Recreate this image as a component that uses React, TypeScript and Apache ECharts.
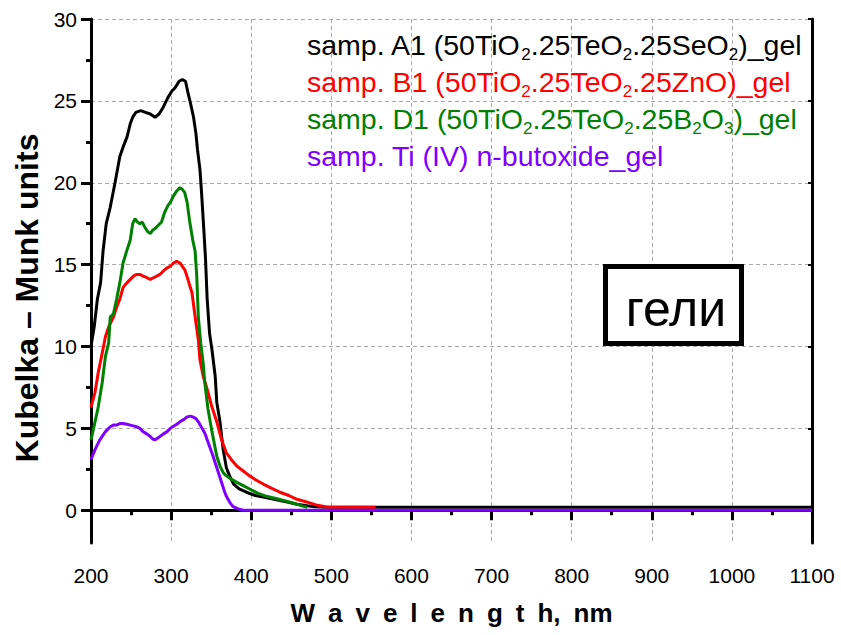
import React, { useEffect, useRef } from "react";
import * as echarts from "echarts";

// ---- data (wavelength nm / Kubelka-Munk units) ----
const wlA = [200, 204, 208, 212, 215, 219, 224, 230, 236, 241, 245, 249, 252, 256, 262, 268, 274, 280, 285, 290, 296, 301, 305, 310, 314, 318, 321, 324, 328, 331, 333, 336, 338, 341, 343, 345, 348, 351, 355, 357, 361, 365, 369, 373, 378, 385, 394, 405, 415, 430, 445, 457, 470, 480, 495, 1100];
const kmA = [10.0, 11.2, 12.9, 13.9, 15.8, 17.5, 18.5, 20.0, 21.6, 22.3, 22.8, 23.6, 24.0, 24.3, 24.4, 24.3, 24.2, 24.0, 24.2, 24.6, 25.2, 25.6, 25.8, 26.2, 26.3, 26.2, 25.5, 24.9, 24.0, 23.0, 22.0, 20.8, 19.4, 17.0, 15.3, 12.9, 10.8, 9.8, 8.2, 6.6, 5.4, 3.7, 2.6, 2.1, 1.6, 1.3, 1.1, 0.9, 0.8, 0.65, 0.5, 0.37, 0.28, 0.22, 0.18, 0.18];

const wlB = [200, 205, 209, 214, 218, 222, 228, 232, 236, 240, 245, 249, 253, 257, 261, 265, 270, 274, 278, 282, 286, 290, 295, 299, 303, 307, 311, 314, 317, 321, 324, 326, 330, 334, 336, 340, 345, 351, 357, 363, 369, 375, 382, 390, 398, 406, 415, 425, 436, 447, 457, 466, 473, 483, 494, 555];
const kmB = [6.3, 7.2, 8.4, 9.6, 10.6, 11.2, 11.8, 12.4, 12.9, 13.6, 13.9, 14.1, 14.3, 14.4, 14.4, 14.3, 14.2, 14.1, 14.2, 14.3, 14.4, 14.6, 14.8, 14.9, 15.1, 15.2, 15.1, 14.9, 14.7, 14.1, 13.6, 13.3, 11.8, 10.4, 9.2, 8.2, 7.4, 6.3, 5.4, 4.3, 3.5, 3.1, 2.7, 2.4, 2.1, 1.85, 1.6, 1.35, 1.1, 0.9, 0.67, 0.55, 0.45, 0.3, 0.2, 0.18];

const wlD = [200, 205, 209, 214, 218, 222, 224, 228, 232, 236, 240, 245, 249, 252, 255, 258, 261, 264, 267, 271, 274, 277, 280, 284, 288, 292, 296, 299, 303, 307, 311, 314, 317, 320, 323, 327, 330, 332, 334, 337, 340, 342, 346, 351, 357, 361, 365, 369, 375, 382, 390, 398, 408, 419, 432, 444, 455, 464, 470];
const kmD = [4.3, 5.4, 6.3, 7.8, 9.4, 10.2, 11.8, 12.0, 12.9, 13.9, 15.1, 15.9, 16.5, 17.5, 17.8, 17.6, 17.5, 17.6, 17.3, 17.0, 16.9, 17.1, 17.2, 17.4, 17.6, 18.2, 18.6, 18.8, 19.2, 19.5, 19.7, 19.6, 19.4, 18.8, 17.7, 16.5, 15.8, 14.3, 11.8, 10.2, 9.0, 7.8, 6.2, 4.8, 3.3, 2.7, 2.3, 2.1, 1.9, 1.7, 1.5, 1.3, 1.05, 0.85, 0.7, 0.55, 0.4, 0.25, 0.18];

const wlT = [200, 205, 211, 218, 224, 228, 232, 236, 240, 245, 249, 253, 257, 261, 265, 270, 274, 277, 280, 283, 286, 290, 295, 299, 302, 307, 311, 316, 320, 324, 327, 331, 334, 337, 340, 343, 345, 348, 351, 355, 359, 363, 367, 369, 373, 377, 383, 390, 1100];
const kmT = [3.1, 3.7, 4.3, 4.8, 5.1, 5.2, 5.2, 5.3, 5.3, 5.25, 5.2, 5.15, 5.1, 5.0, 4.8, 4.65, 4.5, 4.35, 4.3, 4.4, 4.5, 4.65, 4.8, 5.0, 5.1, 5.25, 5.4, 5.55, 5.7, 5.75, 5.7, 5.6, 5.4, 5.15, 4.9, 4.6, 4.3, 3.9, 3.5, 2.9, 2.3, 1.7, 1.1, 0.85, 0.5, 0.24, 0.1, 0, 0];

const seriesNames = [
  "samp. A1 (50TiO2.25TeO2.25SeO2)_gel",
  "samp. B1 (50TiO2.25TeO2.25ZnO)_gel",
  "samp. D1 (50TiO2.25TeO2.25B2O3)_gel",
  "samp. Ti (IV) n-butoxide_gel",
];
const legendRichText = [
  "samp. A1 (50TiO{s|2}.25TeO{s|2}.25SeO{s|2})_gel",
  "samp. B1 (50TiO{s|2}.25TeO{s|2}.25ZnO)_gel",
  "samp. D1 (50TiO{s|2}.25TeO{s|2}.25B{s|2}O{s|3})_gel",
  "samp. Ti (IV) n-butoxide_gel",
];
const colors = ["#000000", "#ff0000", "#008000", "#8000ff"];

const yMajor = [0, 5, 10, 15, 20, 25, 30];
const yMinor = [2.5, 7.5, 12.5, 17.5, 22.5, 27.5];
const boxLabel = "гели";
const xTitle = "W\u2002a\u2002v\u2002e\u2002l\u2002e\u2002n\u2002g\u2002t\u2002h,\u2002nm";
const yTitle = "Kubelka – Munk units";

const FONT = 'Arial, "Liberation Sans", sans-serif';

export default function App() {
  const ref = useRef<HTMLDivElement>(null);
  useEffect(() => {
    const chart = echarts.init(ref.current!, null, { renderer: "svg" });
    const pairs = (xs: number[], ys: number[]) => xs.map((x, i) => [x, ys[i]]);
    const dataSets = [pairs(wlA, kmA), pairs(wlB, kmB), pairs(wlD, kmD), pairs(wlT, kmT)];
    const gridLine = { show: true, lineStyle: { color: "#aaaaaa", width: 1, type: [4, 3] } };
    chart.setOption({
      animation: false,
      backgroundColor: "#ffffff",
      textStyle: { fontFamily: FONT },
      grid: { left: 91, right: 29, top: 19, bottom: 92, containLabel: false },
      legend: {
        left: 302,
        top: 26,
        padding: 0,
        orient: "vertical",
        itemGap: 0,
        itemWidth: 0,
        itemHeight: 14,
        icon: "none",
        selectedMode: false,
        data: seriesNames.map((n, i) => ({ name: n, icon: "none", textStyle: { color: colors[i] } })),
        formatter: (name: string) => legendRichText[seriesNames.indexOf(name)],
        textStyle: {
          fontSize: 28.5,
          fontFamily: FONT,
          lineHeight: 37,
          rich: {
            s: { fontSize: 17, lineHeight: 16, verticalAlign: "bottom", fontFamily: FONT },
          },
        },
      },
      xAxis: [
        {
          type: "value",
          position: "bottom",
          min: 200,
          max: 1100,
          interval: 100,
          name: xTitle,
          nameLocation: "middle",
          nameGap: 57,
          nameTextStyle: { fontSize: 26, fontWeight: "bold", color: "#000", fontFamily: FONT },
          axisLine: { show: true, lineStyle: { color: "#000", width: 3 } },
          axisTick: { show: true, length: 10, lineStyle: { color: "#000", width: 3 } },
          minorTick: { show: true, splitNumber: 2, length: 5, lineStyle: { color: "#000", width: 3 } },
          axisLabel: {
            show: true,
            fontSize: 21,
            color: "#000",
            margin: 22,
            fontFamily: FONT,
            formatter: (v: number) => String(v),
          },
          splitLine: gridLine,
        },
        {
          type: "value",
          position: "top",
          min: 200,
          max: 1100,
          interval: 100,
          axisLine: { show: true, lineStyle: { color: "#000", width: 3 } },
          axisTick: { show: true, inside: true, length: 4, lineStyle: { color: "#000", width: 2 } },
          minorTick: { show: true, splitNumber: 2, length: 3, lineStyle: { color: "#000", width: 2 } },
          axisLabel: { show: false },
          splitLine: { show: false },
        },
      ],
      yAxis: [
        {
          type: "value",
          position: "left",
          min: -2,
          max: 30,
          name: yTitle,
          nameLocation: "middle",
          nameGap: 46,
          nameTextStyle: {
            fontSize: 32,
            fontWeight: "bold",
            color: "#000",
            fontFamily: FONT,
            padding: [0, 34, 0, 0],
          },
          axisLine: { show: true, lineStyle: { color: "#000", width: 3 } },
          axisTick: { show: true, length: 10, customValues: yMajor, lineStyle: { color: "#000", width: 3 } },
          axisLabel: { show: true, fontSize: 21, color: "#000", margin: 14, customValues: yMajor, fontFamily: FONT },
          splitLine: gridLine,
        },
        {
          type: "value",
          position: "left",
          min: -2,
          max: 30,
          axisLine: { show: false },
          axisTick: { show: true, length: 5, customValues: yMinor, lineStyle: { color: "#000", width: 3 } },
          axisLabel: { show: false },
          splitLine: { show: false },
        },
        {
          type: "value",
          position: "right",
          min: -2,
          max: 30,
          axisLine: { show: true, lineStyle: { color: "#000", width: 3 } },
          axisTick: { show: true, inside: true, length: 4, customValues: yMajor, lineStyle: { color: "#000", width: 2 } },
          axisLabel: { show: false },
          splitLine: { show: false },
        },
      ],
      series: dataSets.map((d, i) => ({
        name: seriesNames[i],
        type: "line",
        xAxisIndex: 0,
        yAxisIndex: 0,
        data: d,
        showSymbol: false,
        symbol: "none",
        color: colors[i],
        lineStyle: { color: colors[i], width: 3 },
        z: 2 + i,
      })),
      graphic: [
        {
          type: "group",
          children: [
            {
              type: "rect",
              shape: { x: 605.5, y: 266.5, width: 136, height: 77 },
              style: { fill: "#ffffff", stroke: "#000000", lineWidth: 5 },
              z: 10,
            },
            {
              type: "text",
              x: 676,
              y: 309,
              style: {
                text: boxLabel,
                fontSize: 50,
                fontFamily: FONT,
                fill: "#000000",
                align: "center",
                verticalAlign: "middle",
              },
              z: 11,
            },
          ],
        },
      ],
    });
    return () => chart.dispose();
  }, []);
  return <div ref={ref} style={{ position: "fixed", left: 0, top: 0, width: 841, height: 635 }} />;
}
